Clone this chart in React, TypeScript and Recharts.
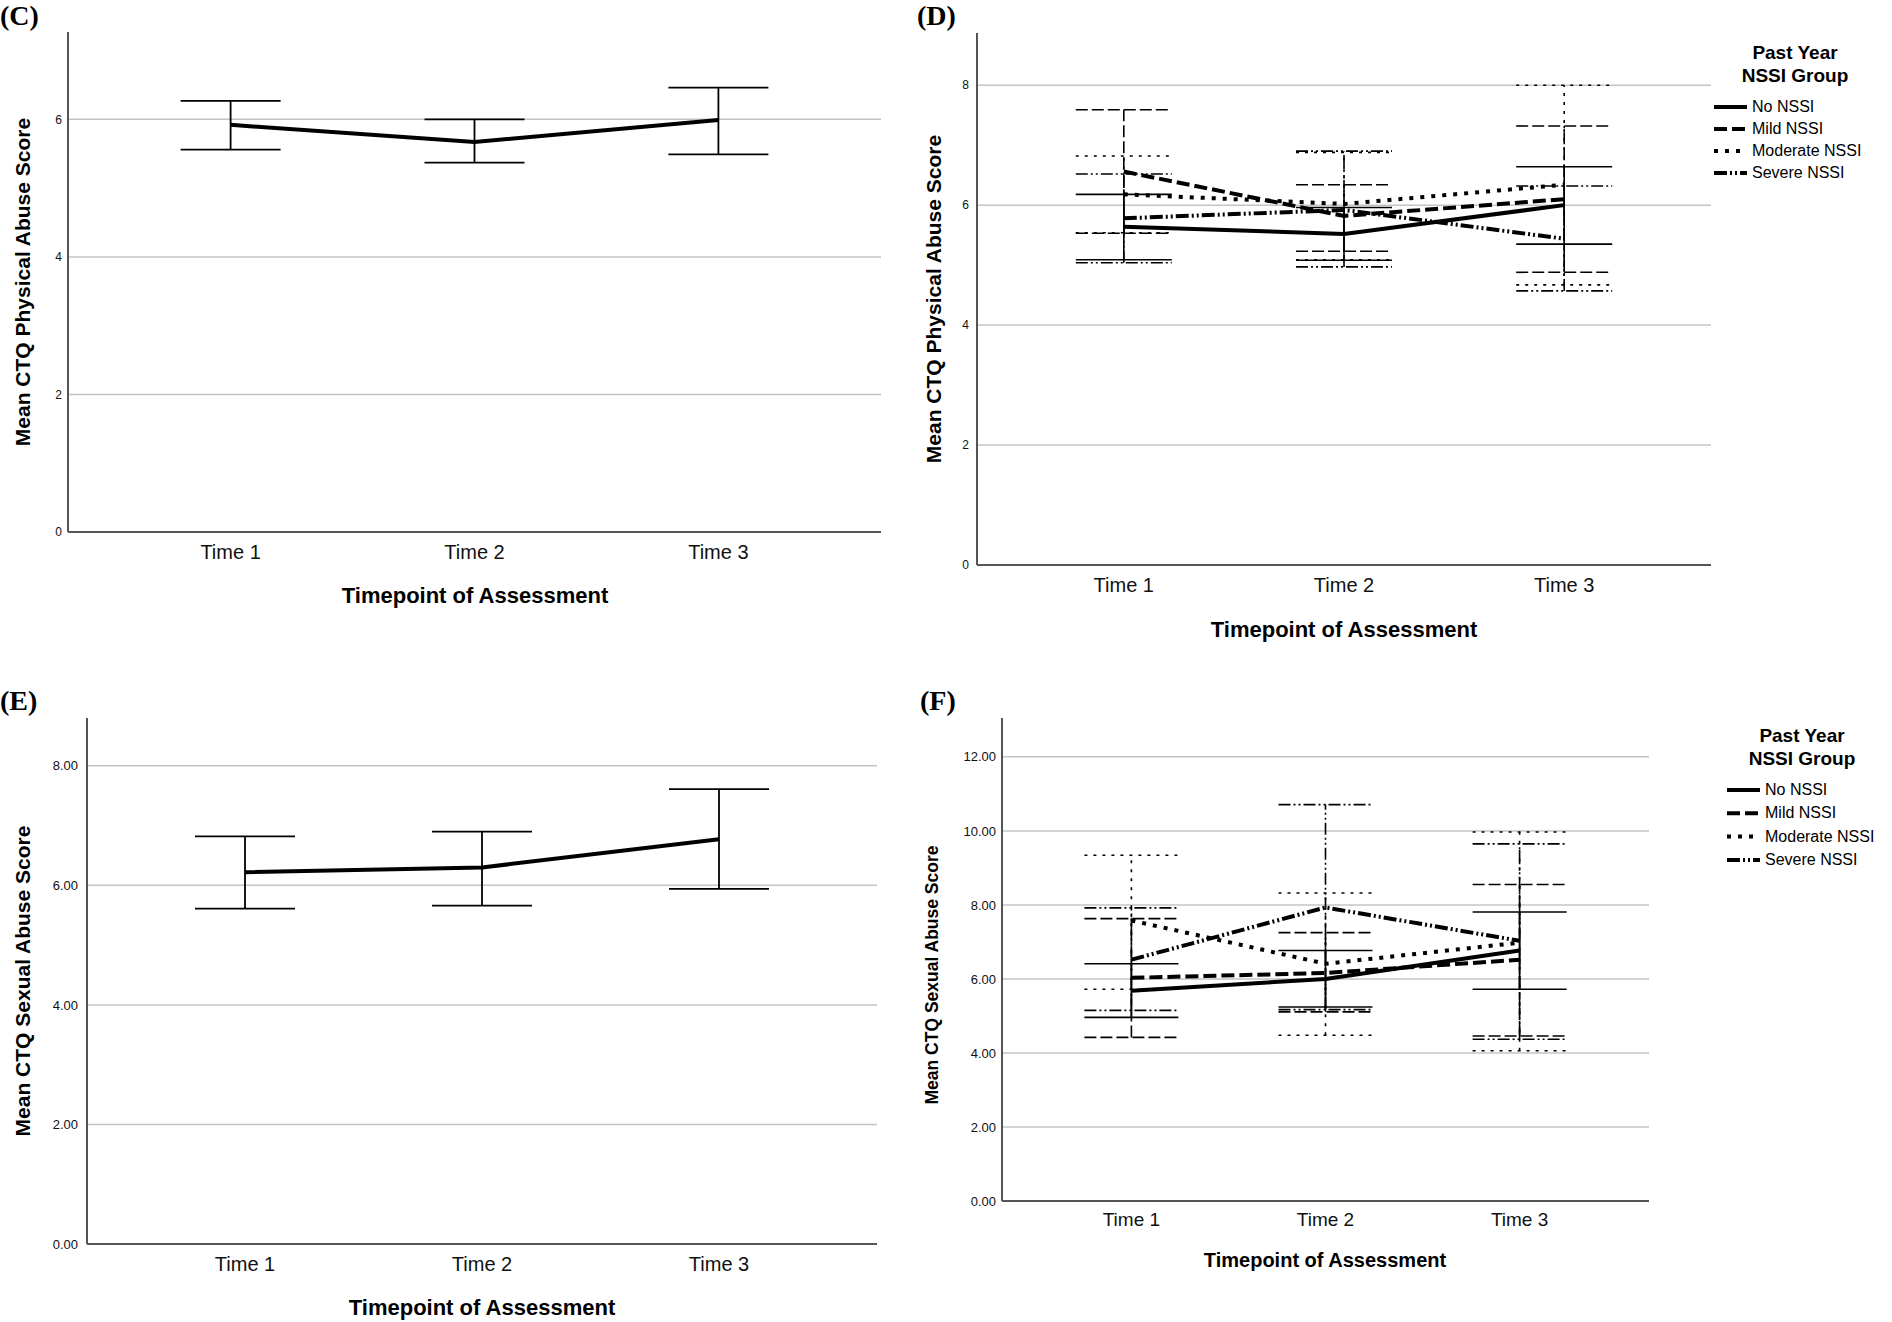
import React from "react";
import { LineChart, Line, XAxis, YAxis, CartesianGrid, ErrorBar } from "recharts";

const timepoints = [1, 2, 3];
const timeLabels = ["Time 1", "Time 2", "Time 3"];
const groupNames = ["No NSSI", "Mild NSSI", "Moderate NSSI", "Severe NSSI"];

// (C) CTQ physical abuse, whole sample: mean and 95% CI
const physMean = [5.92, 5.67, 5.99];
const physLow = [5.56, 5.37, 5.49];
const physHigh = [6.27, 6.0, 6.46];

// (E) CTQ sexual abuse, whole sample
const sexMean = [6.22, 6.3, 6.77];
const sexLow = [5.61, 5.66, 5.94];
const sexHigh = [6.82, 6.9, 7.61];

// (D) physical abuse by NSSI group (rows = groups, cols = timepoints)
const physGroupMean = [
  [5.64, 5.52, 6.0],
  [6.56, 5.82, 6.1],
  [6.18, 6.02, 6.34],
  [5.78, 5.92, 5.44],
];
const physGroupLow = [
  [5.09, 5.08, 5.35],
  [5.53, 5.23, 4.88],
  [5.54, 5.09, 4.67],
  [5.04, 4.97, 4.57],
];
const physGroupHigh = [
  [6.18, 5.96, 6.64],
  [7.59, 6.34, 7.32],
  [6.82, 6.88, 8.0],
  [6.52, 6.9, 6.32],
];

// (F) sexual abuse by NSSI group
const sexGroupMean = [
  [5.68, 6.0, 6.77],
  [6.03, 6.16, 6.52],
  [7.58, 6.41, 6.98],
  [6.52, 7.93, 7.03],
];
const sexGroupLow = [
  [4.96, 5.24, 5.72],
  [4.42, 5.11, 4.46],
  [5.72, 4.48, 4.06],
  [5.15, 5.17, 4.37],
];
const sexGroupHigh = [
  [6.41, 6.77, 7.81],
  [7.63, 7.25, 8.55],
  [9.34, 8.32, 9.97],
  [7.92, 10.71, 9.65],
];

const physTicks = [0, 2, 4, 6];
const physGroupTicks = [0, 2, 4, 6, 8];
const sexTicks = [0, 2, 4, 6, 8];
const sexGroupTicks = [0, 2, 4, 6, 8, 10, 12];

// line styles per group
const lineDash = [undefined, "13 5", "4 7", "13 3 2 3 2 3"];
const errDash = [undefined, "12 4", "3 6", "12 3 2 3 2 3"];

const SANS = "'Liberation Sans', Arial, Helvetica, sans-serif";
const SERIF = "'Liberation Serif', 'Times New Roman', serif";

type Series = { key: string; dash?: string; errDash?: string; width: number; errWidth: number };

function singleRows(mean: number[], low: number[], high: number[]) {
  return timepoints.map((t, i) => ({
    t,
    m0: mean[i],
    m0Err: [mean[i] - low[i], high[i] - mean[i]],
  }));
}

function groupRows(mean: number[][], low: number[][], high: number[][]) {
  return timepoints.map((t, i) => {
    const row: any = { t };
    mean.forEach((g, k) => {
      row["m" + k] = g[i];
      row["m" + k + "Err"] = [g[i] - low[k][i], high[k][i] - g[i]];
    });
    return row;
  });
}

const singleSeries: Series[] = [{ key: "m0", width: 4, errWidth: 1.8 }];
const groupSeries: Series[] = groupNames.map((_, k) => ({
  key: "m" + k,
  dash: lineDash[k],
  errDash: errDash[k],
  width: 4,
  errWidth: 1.6,
}));

type PanelProps = {
  plotLeft: number;
  plotRight: number;
  plotTop: number;
  plotBottom: number;
  yMax: number;
  yTicks: number[];
  decimals: number;
  yAxisWidth: number;
  yTickGap: number;
  yTickSize: number;
  xTickGap: number;
  xTickSize: number;
  rows: any[];
  series: Series[];
  capWidth: number;
};

function Panel(p: PanelProps) {
  const xAxisH = 44;
  const left = p.plotLeft - p.yAxisWidth;
  const top = p.plotTop - 10;
  const width = p.plotRight - left + 2;
  const height = p.plotBottom + xAxisH - top;
  return (
    <div style={{ position: "absolute", left, top }}>
      <LineChart
        width={width}
        height={height}
        data={p.rows}
        margin={{ top: 10, right: 2, bottom: 0, left: 0 }}
      >
        <CartesianGrid vertical={false} syncWithTicks stroke="#c4c4c4" strokeWidth={1.5} />
        <XAxis
          type="number"
          dataKey="t"
          domain={[1 / 3, 11 / 3]}
          ticks={timepoints}
          interval={0}
          allowDataOverflow
          height={xAxisH}
          tickLine={false}
          tickSize={0}
          tickMargin={p.xTickGap}
          tickFormatter={(v: number) => timeLabels[v - 1]}
          axisLine={{ stroke: "#555", strokeWidth: 2 }}
          tick={{ fill: "#111", fontSize: p.xTickSize, fontFamily: SANS }}
        />
        <YAxis
          type="number"
          domain={[0, p.yMax]}
          ticks={p.yTicks}
          interval={0}
          allowDataOverflow
          width={p.yAxisWidth}
          tickLine={false}
          tickSize={0}
          tickMargin={p.yTickGap}
          tickFormatter={(v: number) => v.toFixed(p.decimals)}
          axisLine={{ stroke: "#555", strokeWidth: 2 }}
          tick={{ fill: "#111", fontSize: p.yTickSize, fontFamily: SANS }}
        />
        {p.series.map((s) => (
          <Line
            key={s.key}
            dataKey={s.key}
            type="linear"
            stroke="#000"
            strokeWidth={s.width}
            strokeDasharray={s.dash}
            dot={false}
            activeDot={false}
            isAnimationActive={false}
          >
            <ErrorBar
              dataKey={s.key + "Err"}
              direction="y"
              width={p.capWidth}
              stroke="#000"
              strokeWidth={s.errWidth}
              strokeDasharray={s.errDash}
              isAnimationActive={false}
            />
          </Line>
        ))}
      </LineChart>
    </div>
  );
}

function Text(props: {
  x: number;
  y: number;
  size: number;
  children: React.ReactNode;
  bold?: boolean;
  serif?: boolean;
  rotate?: boolean;
  anchor?: "center" | "left";
}) {
  const { x, y, size, bold = true, serif, rotate, anchor = "center" } = props;
  const tx = anchor === "center" ? "-50%" : "0";
  return (
    <div
      style={{
        position: "absolute",
        left: x,
        top: y,
        transform: `translate(${tx}, -50%)${rotate ? " rotate(-90deg)" : ""}`,
        transformOrigin: rotate ? "center" : undefined,
        whiteSpace: "nowrap",
        fontFamily: serif ? SERIF : SANS,
        fontWeight: bold ? 700 : 400,
        fontSize: size,
        lineHeight: 1,
        color: "#000",
      }}
    >
      {props.children}
    </div>
  );
}

function GroupLegend(props: {
  titleX: number;
  titleY: number;
  sampleX: number;
  rowY: number;
  rowGap: number;
}) {
  const { titleX, titleY, sampleX, rowY, rowGap } = props;
  return (
    <>
      <Text x={titleX} y={titleY} size={19}>Past Year</Text>
      <Text x={titleX} y={titleY + 23} size={19}>NSSI Group</Text>
      <svg
        style={{ position: "absolute", left: sampleX, top: rowY - 12 }}
        width={40}
        height={rowGap * 4 + 8}
      >
        {groupNames.map((_, k) => (
          <line
            key={k}
            x1={0}
            x2={33}
            y1={12 + k * rowGap}
            y2={12 + k * rowGap}
            stroke="#000"
            strokeWidth={4}
            strokeDasharray={lineDash[k]}
          />
        ))}
      </svg>
      {groupNames.map((n, k) => (
        <Text key={n} x={sampleX + 38} y={rowY + k * rowGap} size={16} bold={false} anchor="left">
          {n}
        </Text>
      ))}
    </>
  );
}

export default function App() {
  return (
    <div
      style={{
        position: "absolute",
        left: 0,
        top: 0,
        width: 1892,
        height: 1322,
        background: "#fff",
        overflow: "hidden",
      }}
    >
      {/* (C) */}
      <Panel
        plotLeft={68}
        plotRight={881}
        plotTop={32}
        plotBottom={532}
        yMax={7.27}
        yTicks={physTicks}
        decimals={0}
        yAxisWidth={60}
        yTickGap={6}
        yTickSize={12}
        xTickGap={13}
        xTickSize={20}
        rows={singleRows(physMean, physLow, physHigh)}
        series={singleSeries}
        capWidth={50}
      />
      <Text x={0} y={16} size={28} serif anchor="left">(C)</Text>
      <Text x={22} y={282} size={21} rotate>Mean CTQ Physical Abuse Score</Text>
      <Text x={475} y={596} size={22}>Timepoint of Assessment</Text>

      {/* (D) */}
      <Panel
        plotLeft={977}
        plotRight={1711}
        plotTop={33}
        plotBottom={565}
        yMax={8.87}
        yTicks={physGroupTicks}
        decimals={0}
        yAxisWidth={60}
        yTickGap={8}
        yTickSize={12}
        xTickGap={13}
        xTickSize={20}
        rows={groupRows(physGroupMean, physGroupLow, physGroupHigh)}
        series={groupSeries}
        capWidth={48}
      />
      <Text x={917} y={16} size={28} serif anchor="left">(D)</Text>
      <Text x={933} y={299} size={21} rotate>Mean CTQ Physical Abuse Score</Text>
      <Text x={1344} y={630} size={22}>Timepoint of Assessment</Text>
      <GroupLegend titleX={1795} titleY={52} sampleX={1714} rowY={107} rowGap={22} />

      {/* (E) */}
      <Panel
        plotLeft={87}
        plotRight={877}
        plotTop={718}
        plotBottom={1244}
        yMax={8.8}
        yTicks={sexTicks}
        decimals={2}
        yAxisWidth={80}
        yTickGap={9}
        yTickSize={13}
        xTickGap={13}
        xTickSize={20}
        rows={singleRows(sexMean, sexLow, sexHigh)}
        series={singleSeries}
        capWidth={50}
      />
      <Text x={0} y={701} size={28} serif anchor="left">(E)</Text>
      <Text x={22} y={981} size={21} rotate>Mean CTQ Sexual Abuse Score</Text>
      <Text x={482} y={1308} size={22}>Timepoint of Assessment</Text>

      {/* (F) */}
      <Panel
        plotLeft={1002}
        plotRight={1649}
        plotTop={718}
        plotBottom={1201}
        yMax={13.05}
        yTicks={sexGroupTicks}
        decimals={2}
        yAxisWidth={80}
        yTickGap={6}
        yTickSize={13}
        xTickGap={12}
        xTickSize={19}
        rows={groupRows(sexGroupMean, sexGroupLow, sexGroupHigh)}
        series={groupSeries}
        capWidth={47}
      />
      <Text x={920} y={701} size={28} serif anchor="left">(F)</Text>
      <Text x={933} y={975} size={17.5} rotate>Mean CTQ Sexual Abuse Score</Text>
      <Text x={1325} y={1260} size={20}>Timepoint of Assessment</Text>
      <GroupLegend titleX={1802} titleY={735} sampleX={1727} rowY={790} rowGap={23.3} />
    </div>
  );
}
